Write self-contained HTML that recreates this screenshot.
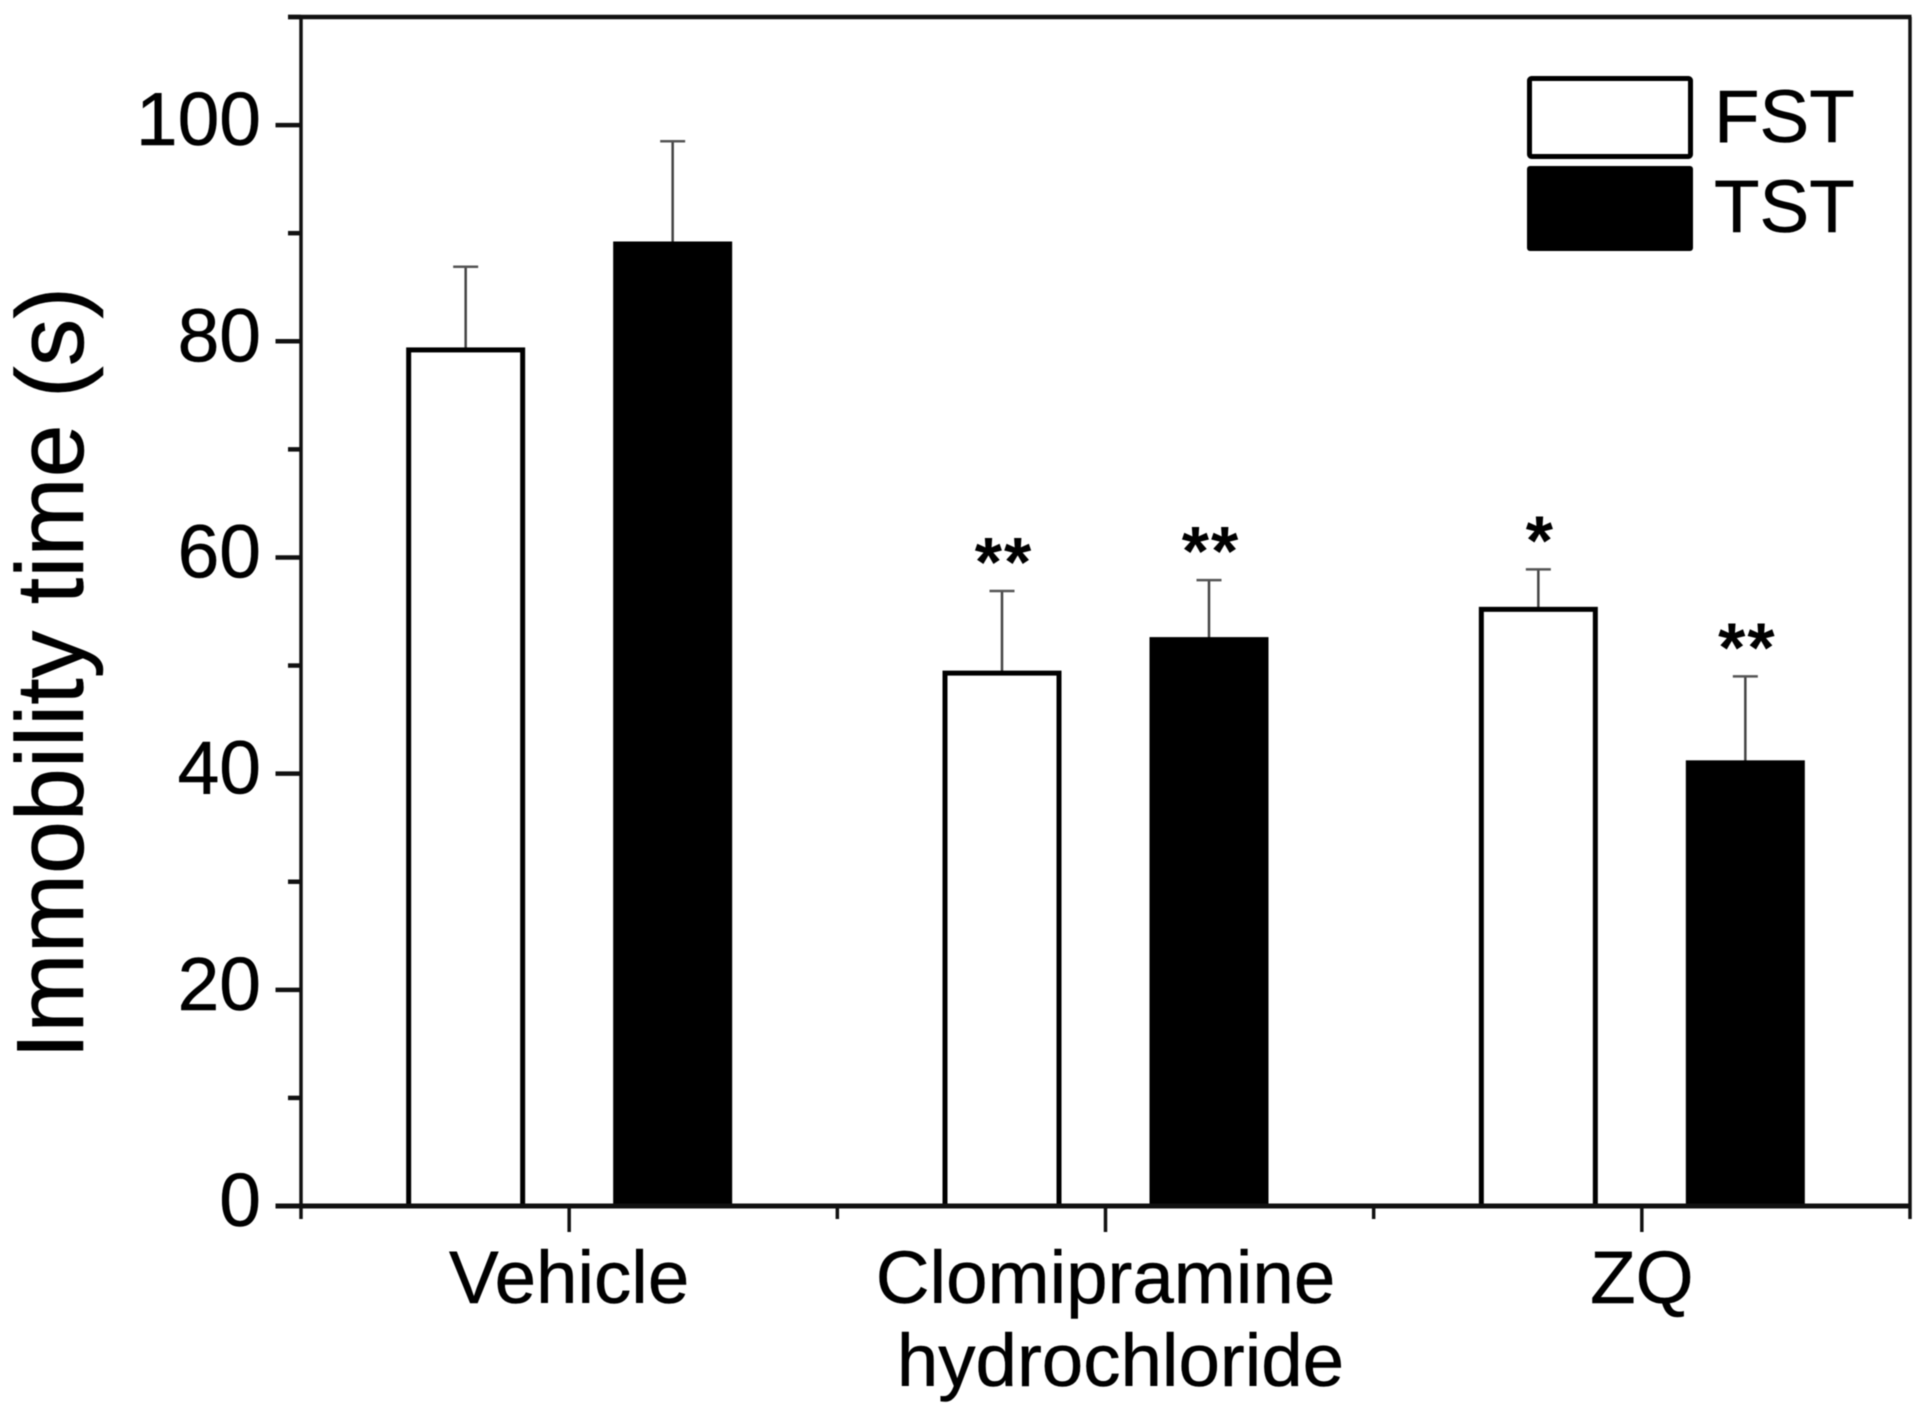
<!DOCTYPE html>
<html>
<head>
<meta charset="utf-8">
<title>Immobility time chart</title>
<style>
html,body{margin:0;padding:0;background:#fff;}
svg{display:block;filter:blur(0.6px);}
text{font-family:"Liberation Sans",Arial,sans-serif;fill:#000;stroke:#000;stroke-width:0.5px;}
</style>
</head>
<body>
<svg id="chart" xmlns="http://www.w3.org/2000/svg" width="1917" height="1410" viewBox="0 0 1917 1410">
  <rect x="0" y="0" width="1917" height="1410" fill="#fff"/>
  <g id="bars"></g>
  <g id="axes"></g>
  <g id="annotations"></g>
  <text transform="translate(83,673) rotate(-90)" text-anchor="middle" font-size="95.2">Immobility time (s)</text>
  <g>
    <g>
      <rect x="1529.5" y="78.5" width="161" height="78" rx="2" fill="#fff" stroke="#000" stroke-width="5"/>
      <text x="1714" y="142" font-size="74.5">FST</text>
    </g>
    <g>
      <rect x="1527" y="166" width="166" height="85" rx="3" fill="#000"/>
      <text x="1714" y="232" font-size="74.5">TST</text>
    </g>
  </g>
</svg>
<script>
const categories = [["Vehicle"], ["Clomipramine", "hydrochloride"], ["ZQ"]];
const fstValues = [79.2, 49.3, 55.2];
const tstValues = [89.0, 52.4, 41.0];
const fstErrorTops = [86.9, 56.9, 58.9];
const tstErrorTops = [98.5, 57.9, 49.0];
const fstStars = ["", "**", "*"];
const tstStars = ["", "**", "**"];
const yTickLabels = [0, 20, 40, 60, 80, 100];
const yMinorTicks = [10, 30, 50, 70, 90, 110];

const SVGNS = "http://www.w3.org/2000/svg";
const plotLeft = 301, plotRight = 1910, plotTop = 17, plotBase = 1206;
const yMax = 110;
const barOffset = 103.5, barWidth = 114;

function yScale(v) { return plotBase - (v / yMax) * (plotBase - plotTop); }
function bandX(i) { return plotLeft + (i / categories.length) * (plotRight - plotLeft); }
function catX(i) { return bandX(i + 0.5); }

function make(parent, tag, attrs, text) {
  const el = document.createElementNS(SVGNS, tag);
  for (const k in attrs) el.setAttribute(k, attrs[k]);
  if (text !== undefined) el.textContent = text;
  parent.appendChild(el);
  return el;
}
function line(parent, x1, y1, x2, y2, w, color) {
  return make(parent, "line", {x1: x1, y1: y1, x2: x2, y2: y2, stroke: color || "#000", "stroke-width": w});
}

const barsG = document.getElementById("bars");
const axesG = document.getElementById("axes");
const annG = document.getElementById("annotations");

function drawBar(i, value, errTop, stars, offset, fill, key) {
  const cx = catX(i) + offset;
  const top = yScale(value);
  const capY = yScale(errTop);
  const stem = line(barsG, cx, top, cx, capY, 2.5, "#444");
  
  
  const cap = line(barsG, cx - 12.5, capY, cx + 12.5, capY, 2.5, "#555");
  
  
  const rect = make(barsG, "rect", {x: cx - barWidth / 2, y: top, width: barWidth, height: plotBase - top, fill: fill, stroke: "#000", "stroke-width": 5});
  
  
  if (stars) {
    const s = make(annG, "text", {x: cx + 2, y: capY - 5, "text-anchor": "middle", "font-size": 70, "font-weight": "bold", "letter-spacing": "2", style: "stroke-width:0"}, stars);
    
    
  }
}

categories.forEach(function (c, i) {
  drawBar(i, fstValues[i], fstErrorTops[i], fstStars[i], -barOffset, "#fff", "fst");
  drawBar(i, tstValues[i], tstErrorTops[i], tstStars[i], barOffset, "#000", "tst");
});

/* frame */
const axisTop = line(axesG, 288, plotTop, plotRight + 1.5, plotTop, 4.5, "#111");


const axisRight = line(axesG, plotRight, plotTop, plotRight, 1219, 3.5, "#111");


const axisLeft = line(axesG, plotLeft, plotTop, plotLeft, 1219, 3.5, "#111");


const axisBottom = line(axesG, 275.5, plotBase, plotRight + 1.5, plotBase, 5, "#111");



/* y ticks */
yTickLabels.forEach(function (v) {
  const y = yScale(v);
  const t = line(axesG, 275.5, y, plotLeft, y, 4.5, "#111");
  
  
  const lab = make(axesG, "text", {x: 261, y: y + 20, "text-anchor": "end", "font-size": 75}, String(v));
  
  
});
yMinorTicks.forEach(function (v) {
  const y = yScale(v);
  const t = line(axesG, 288, y, plotLeft, y, 4.5, "#111");
  
  
});

/* x ticks */
categories.forEach(function (c, i) {
  const x = catX(i);
  const t = line(axesG, x, plotBase, x, 1232, 3.5, "#111");
  
  
  c.forEach(function (txt, j) {
    const lab = make(axesG, "text", {x: x + (j === 0 ? 0 : 15), y: 1303 + j * 83, "text-anchor": "middle", "font-size": 74.5}, txt);
    
    
  });
  if (i < categories.length - 1) {
    const m = line(axesG, bandX(i + 1), plotBase, bandX(i + 1), 1219, 3.5, "#111");
    
    
  }
});
</script>
</body>
</html>
